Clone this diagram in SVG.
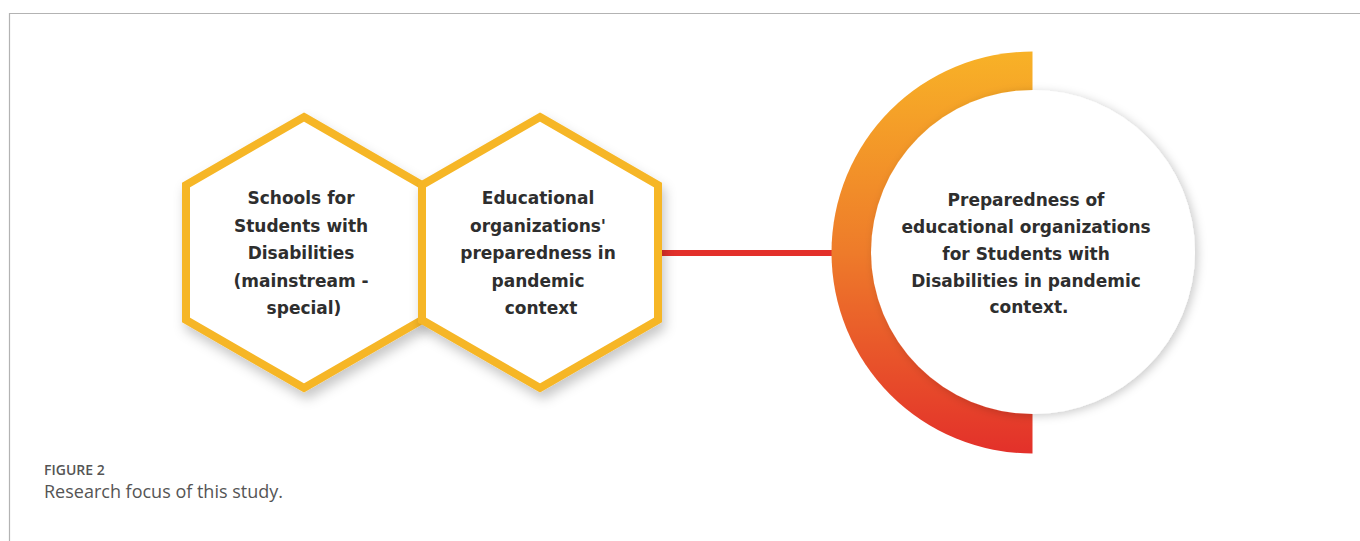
<svg xmlns="http://www.w3.org/2000/svg" width="1360" height="541" viewBox="0 0 1360 541">
  <defs>
    <style>
      .frame { fill: none; stroke: #b3b3b3; stroke-width: 1.2; }
      .hex { fill: #ffffff; stroke: #F6B626; stroke-width: 8; stroke-linejoin: miter; }
      .label { font-family: "DejaVu Sans", "Liberation Sans", sans-serif; font-weight: bold; font-size: 17px; fill: #2e2e2e; text-anchor: middle; }
      .cap-title { font-family: "Open Sans", "Liberation Sans", sans-serif; font-weight: 600; font-size: 14px; fill: #555555; }
      .cap-text { font-family: "Open Sans", "Liberation Sans", sans-serif; font-size: 18px; fill: #555555; }
    </style>
    <linearGradient id="ringGrad" x1="0" y1="51" x2="0" y2="454" gradientUnits="userSpaceOnUse">
      <stop offset="0" stop-color="#F8B227"/>
      <stop offset="0.5" stop-color="#EE7B2A"/>
      <stop offset="1" stop-color="#E3302A"/>
    </linearGradient>
    <filter id="softShadow" x="-20%" y="-20%" width="140%" height="150%">
      <feDropShadow dx="3" dy="7" stdDeviation="6" flood-color="#000000" flood-opacity="0.22"/>
    </filter>
    <filter id="circleShadow" x="-20%" y="-20%" width="140%" height="140%">
      <feDropShadow dx="3" dy="2" stdDeviation="5" flood-color="#000000" flood-opacity="0.2"/>
    </filter>
  </defs>

  <rect width="1360" height="541" fill="#ffffff"/>

  <!-- figure frame: top and left rules -->
  <path class="frame" d="M9.5 541 V13.5 H1360"/>

  <!-- connector -->
  <g id="connectors">
    <line x1="662" y1="253" x2="834" y2="253" stroke="#E3302A" stroke-width="6"/>
  </g>

  <!-- hexagon: schools -->
  <g id="node-schools">
    <polygon class="hex" filter="url(#softShadow)" points="304,117 422,185 422,320 304,388 186,320 186,185"/>
    <text class="label">
      <tspan x="304" y="204">Schools for</tspan>
      <tspan x="304" y="231.5">Students with</tspan>
      <tspan x="304" y="259">Disabilities</tspan>
      <tspan x="304" y="286.5">(mainstream -</tspan>
      <tspan x="304" y="314">special)</tspan>
    </text>
  </g>

  <!-- hexagon: preparedness -->
  <g id="node-preparedness">
    <polygon class="hex" filter="url(#softShadow)" points="540,117 658,185 658,320 540,388 422,320 422,185"/>
    <text class="label">
      <tspan x="541" y="204">Educational</tspan>
      <tspan x="541" y="231.5">organizations'</tspan>
      <tspan x="541" y="259">preparedness in</tspan>
      <tspan x="541" y="286.5">pandemic</tspan>
      <tspan x="541" y="314">context</tspan>
    </text>
  </g>

  <!-- circle with gradient half ring -->
  <g id="node-focus">
    <path d="M1032.5 51.5 A201 201 0 0 0 1032.5 453.5 Z" fill="url(#ringGrad)"/>
    <circle cx="1033" cy="252" r="162" fill="#ffffff" filter="url(#circleShadow)"/>
    <text class="label">
      <tspan x="1029" y="206">Preparedness of</tspan>
      <tspan x="1029" y="233">educational organizations</tspan>
      <tspan x="1029" y="259.5">for Students with</tspan>
      <tspan x="1029" y="286.5">Disabilities in pandemic</tspan>
      <tspan x="1029" y="313">context.</tspan>
    </text>
  </g>

  <!-- caption -->
  <text class="cap-title" x="44" y="475">FIGURE 2</text>
  <text class="cap-text" x="44" y="498">Research focus of this study.</text>
</svg>
